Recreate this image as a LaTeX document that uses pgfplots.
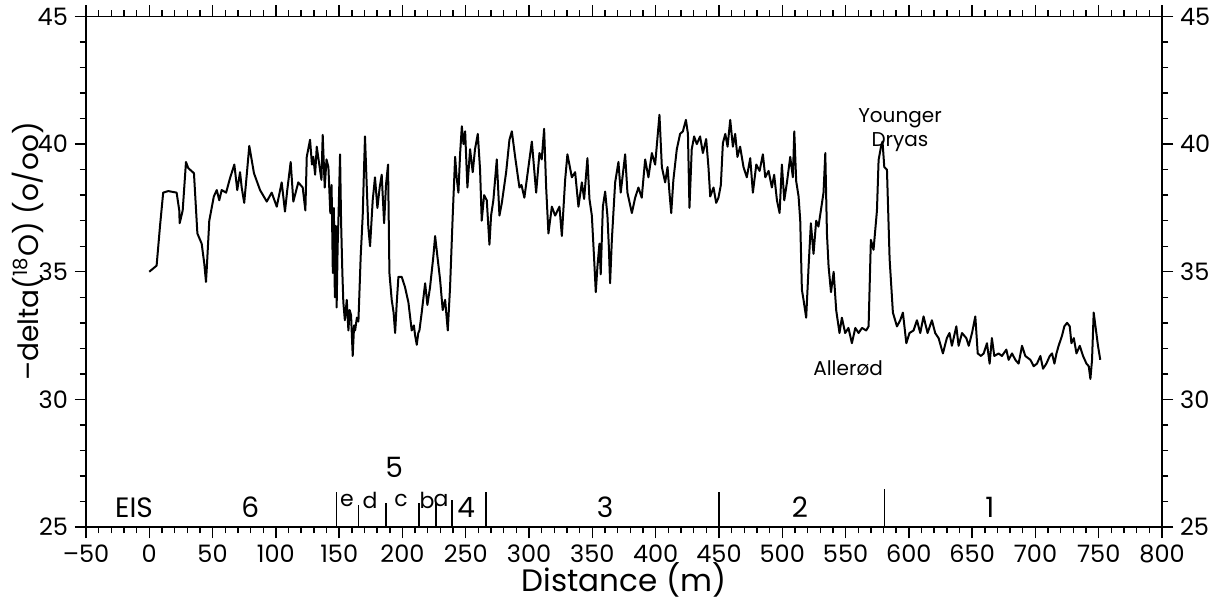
\documentclass[border=0pt]{standalone}
\usepackage{fontspec}
\setmainfont{Poppins}
\usepackage{pgfplots}
\pgfplotsset{compat=1.18}
\pgfplotstableread{
x y
0 35.0
5.8 35.24
8.5 36.8
11 38.1
15 38.16
21.6 38.1
23.7 37.4
24 36.9
26.4 37.4
29 39.3
30.8 39.06
35.3 38.86
38 36.5
41.4 36.1
43.5 35.3
44.8 34.6
45.5 35.2
47.4 37.0
51 37.95
53.3 38.2
55.3 37.8
57.2 38.2
60.7 38.1
63.8 38.67
67.2 39.2
69.5 38.2
71.7 38.9
73 38.3
75 37.7
77 38.8
79 39.93
82.7 38.86
87.5 38.2
92.8 37.75
96.7 38.1
100.7 37.55
104.6 38.5
107.2 37.36
109 38.2
111.7 39.3
113.8 37.75
117.7 38.5
121.2 38.3
123.3 37.4
124.4 39.5
127 40.17
128.5 39.2
129.6 39.5
131 38.8
132.3 39.9
134 39.3
136 38.6
137 40.36
138.6 38.3
140 39.4
141.5 39.1
143 37.3
144 38.4
145 34.95
145.8 37.5
146.6 34.0
147.3 36.8
148 33.6
148.8 36.0
149.5 37.2
150.7 39.6
151.5 37.0
152.5 35.0
153.3 33.8
154.5 33.1
156 33.9
157.3 32.7
158.3 33.5
159.4 33.3
160.7 31.7
161.8 32.9
162.6 32.7
164 33.2
165.2 33.05
166 34.17
167 35.6
168.6 37.2
169.5 38.8
170.4 40.3
171.7 38.47
173 36.77
174.4 36.0
176.5 37.8
178.3 38.7
180.2 37.5
182 38.3
183.6 38.8
185.5 36.9
187 38.4
188.6 39.2
189.7 34.95
191.5 33.9
193 33.4
194.2 32.6
195.5 33.8
196.8 34.8
199.4 34.8
202 34.4
204.7 33.8
207.3 32.7
209 32.9
210 32.5
211.3 32.14
212.5 32.6
213.4 32.7
215.2 33.4
217.9 34.55
219.7 33.7
221.8 34.4
224.4 35.6
225.8 36.4
227.6 35.6
229.7 34.7
231.8 33.5
233.7 33.9
235.8 32.7
237.6 34.4
239.7 37.2
241.6 39.5
242.8 38.7
244.2 38.1
245.5 39.6
246.9 40.7
248.2 40.0
249.5 40.5
251.3 38.3
253.4 39.8
255.5 38.9
257.3 39.8
259.5 40.4
261.3 39.0
262.6 37.0
264.5 38.0
266.6 37.8
268.7 36.06
270 37.2
271.8 37.8
274.5 39.4
276.6 37.2
278.5 37.7
281.9 38.9
284.5 40.17
286.4 40.5
289 39.5
292.4 38.3
294 38.4
296.3 37.9
299.5 39.1
302.2 40.1
305.6 38.1
308.2 39.65
310 39.4
311.9 40.6
313.5 38.3
315.3 36.5
318 37.55
320.6 37.2
324 37.55
325.9 36.4
328.5 38.6
330.3 39.6
333.8 38.7
336.4 38.9
339 37.55
341.7 38.5
343.5 37.85
346.1 39.45
347.7 37.85
349.6 37.2
351.4 35.5
352.7 34.2
354 35.2
355.6 36.1
356.6 34.9
358.3 37.55
360.1 38.14
361.9 37.2
363 36.0
364 34.55
365.4 36.25
368 38.5
370.6 39.3
372.4 38.1
375.9 39.6
377.7 38.1
381.2 37.3
383.8 37.9
386.4 38.3
389 37.9
391.7 39.4
394.3 38.7
397 39.65
399.6 39.2
401.4 40.23
403 41.15
404.9 39.1
407.5 38.5
409.4 39.1
410.9 38.1
412.3 37.3
414 38.6
416.7 39.8
419.3 40.4
421.5 40.5
423.9 40.95
425.5 40.4
426.7 37.5
428.5 39.8
430.4 40.3
432.5 40.0
435.1 40.3
437.3 39.65
439.9 40.2
441.7 39.1
443.1 37.95
445.7 38.3
447.8 37.7
449.6 37.9
451.5 38.4
453.1 40.04
455 40.4
456.8 39.9
458.9 40.95
461 39.9
462.8 40.4
464.6 39.5
466.7 39.9
469.4 39.1
472 38.7
474.7 39.45
476.8 38.1
479.5 39.2
482.1 38.95
484.7 39.6
486.6 38.7
489.2 38.95
491.8 38.3
493.6 38.8
495.8 37.8
497.9 37.3
499.7 39.2
501.6 37.8
503.7 38.5
506.3 39.5
508.4 38.7
509.5 40.5
511 38.55
512.9 37.95
514.2 37.0
515.5 34.3
516.8 33.9
518.9 33.2
520.8 35.2
522.6 36.9
524.7 35.7
526.8 37.0
528.6 36.77
530.5 37.4
532.6 38.1
534 39.65
535.3 36.5
536.6 35.2
538.5 34.2
540.6 35.0
542.6 33.5
545.2 32.6
547.1 33.2
549.7 32.6
552.3 32.8
555 32.2
557.7 32.8
560.3 32.6
563 32.8
566.3 32.7
568.2 32.86
570 36.25
572.1 35.86
574.8 37.4
576.1 39.38
578 39.9
579.2 40.1
580.6 39.1
582.7 39.0
584.8 35.5
587.4 33.4
590.6 32.86
593.2 33.1
595.3 33.4
598 32.2
600.5 32.6
603.7 32.7
606.4 33.1
609 32.6
611.6 33.25
614.8 32.6
618.2 33.1
620.8 32.6
623.5 32.4
626.9 31.8
630 32.4
632.1 32.6
634 32.1
637.5 32.86
639.3 32.1
642 32.6
645.4 32.4
647.3 32.1
649.9 32.6
652.5 33.25
654.4 31.8
657 31.7
659.1 31.8
661.7 32.2
663.8 31.4
665.6 32.4
667.5 31.7
670.9 31.8
673.5 31.7
677 31.95
678.8 31.55
681.5 31.8
684.1 31.55
686.7 31.4
689.4 32.1
692 31.7
696 31.55
698.6 31.3
701.2 31.4
703.9 31.7
706 31.2
708.6 31.4
711.3 31.7
713.1 31.8
715 31.4
716.6 31.8
718.3 32.1
721 32.5
722.8 32.86
725 33.0
727.1 32.86
728.4 32.2
730.3 32.4
732.4 31.8
735 32.1
737.6 31.7
740.3 31.4
742.1 31.3
743.4 30.8
744.7 31.55
746 33.4
748.1 32.6
749.4 32.1
751.2 31.55
}\dataA
\begin{document}
\begin{tikzpicture}
\pgfplotsset{
  common/.style={
    scale only axis, width=538pt, height=255.25pt,
    xmin=-50, xmax=800, ymin=25, ymax=45,
    xtick={-50,0,...,800}, minor x tick num=4,
    ytick={25,30,...,45}, minor y tick num=4,
    tick align=outside,
    major tick length=5.5pt, minor tick length=3pt,
    axis line style={line width=0.9pt},
    every tick/.style={black, line width=0.7pt},
    tick label style={font=\fontsize{12}{12}\selectfont},
    xticklabel style={inner sep=0pt, yshift=-3pt},
    /pgf/number format/assume math mode=true,
  }
}
\begin{axis}[common, name=main,
  xticklabel pos=lower, yticklabel pos=left,
  xticklabels={–50,0,50,100,150,200,250,300,350,400,450,500,550,600,650,700,750,800},
  xlabel={Distance (m)},
  ylabel={–delta(\textsuperscript{18}O)\ (o/oo)},
  xlabel style={font=\fontsize{15.5}{15.5}\selectfont, inner sep=0pt, at={(rel axis cs:0.5,-0.104)}, anchor=center},
  ylabel style={font=\fontsize{14}{14}\selectfont, at={(rel axis cs:-0.054,0.54)}, anchor=center},
]
\addplot[black, line width=1pt, line join=round] table[x=x,y=y] {\dataA};
\addplot[ycomb, black, line width=0.7pt] coordinates {
 (148,26.39) (165.5,25.88) (187,25.96) (213,25.96) (226.5,25.98) (239,26.05) (266,26.39) (450,26.39) (580.7,26.47)};
\node[font=\fontsize{10}{12}\selectfont, align=center] at (axis cs:593,40.56) {Younger\\Dryas};
\node[font=\fontsize{10}{12}\selectfont] at (axis cs:552,31.24) {Allerød};
\node[font=\fontsize{14}{14}\selectfont] at (axis cs:-12,25.77) {EIS};
\node[font=\fontsize{14}{14}\selectfont] at (axis cs:79.7,25.77) {6};
\node[font=\fontsize{14}{14}\selectfont] at (axis cs:193.4,27.33) {5};
\node[font=\fontsize{14}{14}\selectfont] at (axis cs:250.3,25.77) {4};
\node[font=\fontsize{14}{14}\selectfont] at (axis cs:360,25.77) {3};
\node[font=\fontsize{14}{14}\selectfont] at (axis cs:514,25.77) {2};
\node[font=\fontsize{14}{14}\selectfont] at (axis cs:664,25.77) {1};
\node[font=\fontsize{11}{11}\selectfont] at (axis cs:156.2,26.05) {e};
\node[font=\fontsize{11}{11}\selectfont] at (axis cs:174.4,26.05) {d};
\node[font=\fontsize{11}{11}\selectfont] at (axis cs:198.9,26.05) {c};
\node[font=\fontsize{11}{11}\selectfont] at (axis cs:219.4,26.05) {b};
\node[font=\fontsize{11}{11}\selectfont] at (axis cs:230.5,26.05) {a};
\coordinate (bl) at (rel axis cs:-0.0799,-0.145);
\coordinate (tr) at (rel axis cs:1.052,1.0323);
\end{axis}
\begin{axis}[common, at={(main.south west)}, anchor=south west,
  xticklabels={}, yticklabel pos=right]
\end{axis}
\pgfresetboundingbox
\path[use as bounding box] (bl) rectangle (tr);
\end{tikzpicture}
\end{document}
